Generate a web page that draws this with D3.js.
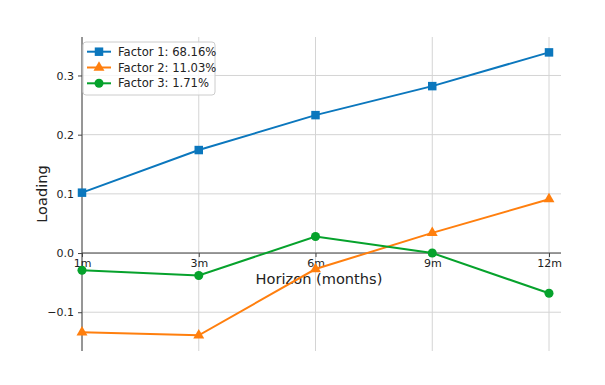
<!DOCTYPE html>
<html>
<head>
<meta charset="utf-8">
<script src="https://cdn.jsdelivr.net/npm/d3@7"></script>
<style>
  html, body { margin: 0; padding: 0; background: #fff; }
  svg { display: block; font-family: "DejaVu Sans", sans-serif; }
</style>
</head>
<body>
<svg id="chart" width="605" height="385"></svg>
<script>
const horizons = ["1m", "3m", "6m", "9m", "12m"];
const factor1 = [0.102, 0.174, 0.233, 0.282, 0.339];
const factor2 = [-0.134, -0.139, -0.027, 0.034, 0.091];
const factor3 = [-0.029, -0.038, 0.028, 0.000, -0.068];
const seriesNames = ["Factor 1: 68.16%", "Factor 2: 11.03%", "Factor 3: 1.71%"];
const yTicks = [-0.1, 0.0, 0.1, 0.2, 0.3];

const colors = ["#0b77bd", "#ff7f0e", "#06a22c"];
const shapes = [d3.symbolSquare, d3.symbolTriangle, d3.symbolCircle];
const sizes = [72, 52, 64];

const svg = d3.select("#chart");
const pLeft = 82, pRight = 561, pTop = 37, pBottom = 351;

const x = d3.scaleLinear().domain([0, 4]).range([82, 549]);
const y = d3.scaleLinear().domain([-0.1655, 0.365]).range([pBottom, pTop]);

// grid
const g = svg.append("g");
g.selectAll(".hg").data(yTicks).join("line")
  .attr("x1", pLeft).attr("x2", pRight)
  .attr("y1", d => y(d)).attr("y2", d => y(d))
  .attr("stroke", "#d4d4d4").attr("stroke-width", 1);
g.selectAll(".vg").data(horizons).join("line")
  .attr("x1", (d, i) => x(i)).attr("x2", (d, i) => x(i))
  .attr("y1", pTop).attr("y2", pBottom)
  .attr("stroke", "#d4d4d4").attr("stroke-width", 1);

// y axis
const yAxis = d3.axisLeft(y).tickValues(yTicks).tickSize(4).tickPadding(4)
  .tickFormat(d => d3.format(".1f")(d).replace("-", "\u2212"));
const ya = svg.append("g").attr("transform", `translate(${pLeft},0)`).call(yAxis);
ya.select(".domain").attr("d", `M0,${pTop}V${pBottom}`).attr("stroke", "#444");
ya.selectAll(".tick line").attr("stroke", "#444");
ya.selectAll(".tick text").attr("font-size", 11).attr("fill", "#222")
  .attr("font-family", "DejaVu Sans");

// x axis at y=0
const xAxis = d3.axisBottom(x).tickValues([0, 1, 2, 3, 4]).tickSize(4).tickPadding(2)
  .tickFormat(i => horizons[i]);
const xa = svg.append("g").attr("transform", `translate(0,${y(0)})`).call(xAxis);
xa.select(".domain").attr("d", `M${pLeft},0H${pRight}`).attr("stroke", "#444");
xa.selectAll(".tick line").attr("stroke", "#444");
xa.selectAll(".tick text").attr("font-size", 11).attr("fill", "#222")
  .attr("font-family", "DejaVu Sans");

// labels
svg.append("text").attr("x", 319).attr("y", 284).attr("text-anchor", "middle")
  .attr("font-size", 14.6).attr("fill", "#222").text("Horizon (months)");
svg.append("text").attr("transform", `translate(47,${(pTop + pBottom) / 2}) rotate(-90)`)
  .attr("text-anchor", "middle").attr("font-size", 14.6).attr("fill", "#222").text("Loading");

// series
const data = [factor1, factor2, factor3];
const line = d3.line().x((d, i) => x(i)).y(d => y(d));
data.forEach((vals, k) => {
  svg.append("path").datum(vals).attr("d", line)
    .attr("fill", "none").attr("stroke", colors[k]).attr("stroke-width", 2);
  svg.selectAll(".m" + k).data(vals).join("path")
    .attr("transform", (d, i) => `translate(${x(i)},${y(d)})`)
    .attr("d", d3.symbol().type(shapes[k]).size(sizes[k]))
    .attr("fill", colors[k]);
});

// legend
const lg = svg.append("g").attr("transform", "translate(83,42)");
lg.append("rect").attr("x", 0).attr("y", 0).attr("width", 132).attr("height", 53)
  .attr("rx", 3).attr("fill", "#fff").attr("fill-opacity", 0.8)
  .attr("stroke", "#cccccc").attr("stroke-width", 1);
seriesNames.forEach((name, k) => {
  const cy = 9.7 + k * 15.8;
  lg.append("line").attr("x1", 4).attr("x2", 28).attr("y1", cy).attr("y2", cy)
    .attr("stroke", colors[k]).attr("stroke-width", 2);
  lg.append("path").attr("transform", `translate(16,${cy})`)
    .attr("d", d3.symbol().type(shapes[k]).size(sizes[k])).attr("fill", colors[k]);
  lg.append("text").attr("x", 35).attr("y", cy).attr("dy", "0.36em")
    .attr("font-size", 11.6).attr("fill", "#222").text(name);
});
</script>
</body>
</html>
